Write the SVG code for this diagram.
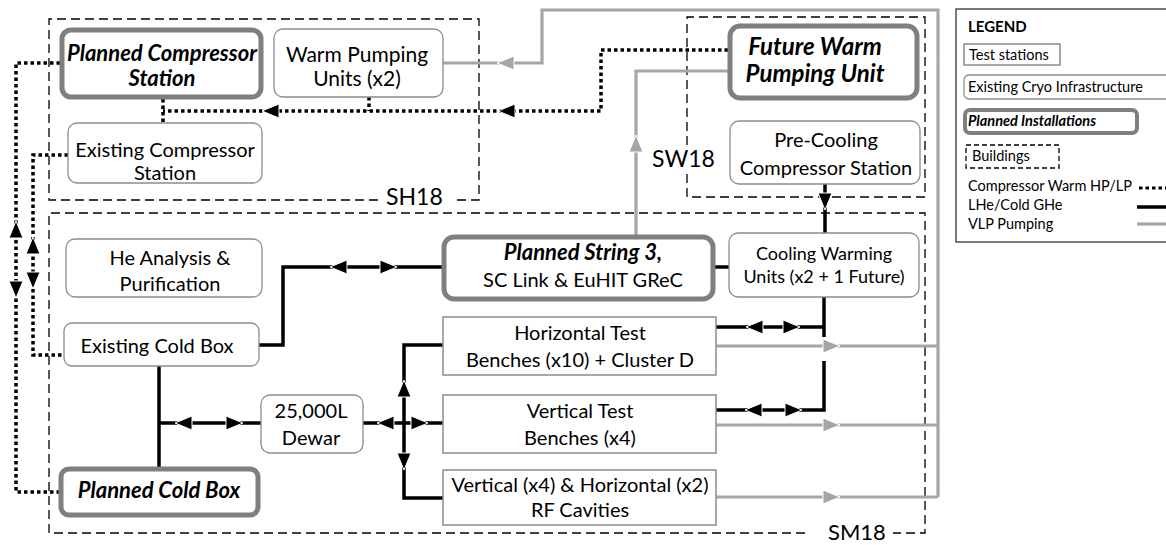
<svg xmlns="http://www.w3.org/2000/svg" xmlns:xlink="http://www.w3.org/1999/xlink" width="1166" height="545" viewBox="0 0 1166 545">
  <style>
    .ex { fill: #fff; stroke: #8c8c8c; stroke-width: 1.3; }
    .pl { fill: #fff; stroke: #7f7f7f; stroke-width: 5; }
    .ts { fill: #fff; stroke: #8c8c8c; stroke-width: 1.5; }
    .bld { fill: none; stroke: #000; stroke-width: 1.3; stroke-dasharray: 9 5; }
    .t { font-family: Lato, "Liberation Sans", sans-serif; font-size: 20px; fill: #000; text-anchor: middle; }
    .bi { font-weight: bold; font-style: italic; font-size: 22px; }
    .big { font-size: 24px; }
    .sm { font-size: 18px; }
    .lbl { font-family: Lato, "Liberation Sans", sans-serif; font-size: 23px; fill: #000; }
    .lg { font-family: Lato, "Liberation Sans", sans-serif; font-size: 14.5px; fill: #000; }
    .cold { fill: none; stroke: #000; stroke-width: 3.5; }
    .vlp { fill: none; stroke: #a6a6a6; stroke-width: 3.2; }
    .warm { fill: none; stroke: #000; stroke-width: 3.5; stroke-dasharray: 3.5 3; }
    .ak { fill: #000; stroke: #fff; stroke-width: 1; }
    .ag { fill: #a6a6a6; stroke: #fff; stroke-width: 1; }
  </style>
  <defs>
    <!-- arrowhead with its tip at the origin, pointing along +x -->
    <path id="ah" d="M0,0 L-17,-7 L-17,7 Z"/>
  </defs>

  <!-- buildings -->
  <g id="buildings">
    <path class="bld" d="M378,200 H49 V19 H479 V200 H456"/>
    <text class="lbl" x="386" y="205">SH18</text>
    <path class="bld" d="M687,145 V17 H925 V197 H687 V173"/>
    <text class="lbl" x="652" y="167">SW18</text>
    <path class="bld" d="M805,533 H49 V213 H925 V533 H893"/>
    <text class="lbl" x="828" y="540" style="font-size:22px">SM18</text>
  </g>

  <!-- connectors -->
  <g id="connectors">
    <!-- VLP pumping -->
    <path class="vlp" d="M443,63 H542 V10 H938 V497"/>
    <path class="vlp" d="M728,71 H636 V235"/>
    <path class="vlp" d="M716,346 H938"/>
    <path class="vlp" d="M716,425 H938"/>
    <path class="vlp" d="M716,497 H938"/>
    <use xlink:href="#ah" class="ag" transform="translate(497,63) rotate(180)"/>
    <use xlink:href="#ah" class="ag" transform="translate(636,135) rotate(-90)"/>
    <use xlink:href="#ah" class="ag" transform="translate(840,346)"/>
    <use xlink:href="#ah" class="ag" transform="translate(840,425)"/>
    <use xlink:href="#ah" class="ag" transform="translate(840,497)"/>

    <!-- compressor warm HP/LP -->
    <path class="warm" d="M728,50 H601 V111 H163"/>
    <path class="warm" d="M163,99 V123"/>
    <path class="warm" d="M369,97 V111"/>
    <path class="warm" d="M60,63 H16 V492 H60"/>
    <path class="warm" d="M68,155 H33 V355 H64"/>
    <use xlink:href="#ah" class="ak" transform="translate(498,111) rotate(180)"/>
    <use xlink:href="#ah" class="ak" transform="translate(262,111) rotate(180)"/>
    <use xlink:href="#ah" class="ak" transform="translate(16,221) rotate(-90)"/>
    <use xlink:href="#ah" class="ak" transform="translate(16,298) rotate(90)"/>
    <use xlink:href="#ah" class="ak" transform="translate(33,237) rotate(-90)"/>
    <use xlink:href="#ah" class="ak" transform="translate(33,289) rotate(90)"/>

    <!-- LHe / cold GHe -->
    <path class="cold" d="M259,345 H283 V267 H442"/>
    <path class="cold" d="M714,267 H729"/>
    <path class="cold" d="M159,366 V467"/>
    <path class="cold" d="M159,423 H261"/>
    <path class="cold" d="M363,423 H443"/>
    <path class="cold" d="M443,345 H404 V498 H443"/>
    <path class="cold" d="M825,184 V233"/>
    <path class="cold" d="M824,297 V337"/>
    <path class="cold" d="M716,327 H824"/>
    <path class="cold" d="M716,410 H824 V361"/>
    <use xlink:href="#ah" class="ak" transform="translate(330,267) rotate(180)"/>
    <use xlink:href="#ah" class="ak" transform="translate(397,267)"/>
    <use xlink:href="#ah" class="ak" transform="translate(175,423) rotate(180)"/>
    <use xlink:href="#ah" class="ak" transform="translate(243,423)"/>
    <use xlink:href="#ah" class="ak" transform="translate(377,423) rotate(180)"/>
    <use xlink:href="#ah" class="ak" transform="translate(428,423)"/>
    <use xlink:href="#ah" class="ak" transform="translate(404,380) rotate(-90)"/>
    <use xlink:href="#ah" class="ak" transform="translate(404,470) rotate(90)"/>
    <use xlink:href="#ah" class="ak" transform="translate(825,210) rotate(90)"/>
    <use xlink:href="#ah" class="ak" transform="translate(746,327) rotate(180)"/>
    <use xlink:href="#ah" class="ak" transform="translate(800,327)"/>
    <use xlink:href="#ah" class="ak" transform="translate(745,410) rotate(180)"/>
    <use xlink:href="#ah" class="ak" transform="translate(802,410)"/>
  </g>

  <!-- SH18 -->
  <g id="planned-compressor-station">
    <rect class="pl" x="62" y="30" width="199" height="67" rx="9"/>
    <text class="t bi" x="162" y="61">Planned Compressor</text>
    <text class="t bi" x="162" y="86">Station</text>
  </g>
  <g id="warm-pumping-units">
    <rect class="ex" x="274" y="29" width="169" height="68" rx="9"/>
    <text class="t" x="357" y="62" style="font-size:21px">Warm Pumping</text>
    <text class="t" x="357" y="86" style="font-size:21px">Units (x2)</text>
  </g>
  <g id="existing-compressor-station">
    <rect class="ex" x="68" y="123" width="194" height="60" rx="9"/>
    <text class="t" x="165" y="157">Existing Compressor</text>
    <text class="t" x="165" y="180">Station</text>
  </g>

  <!-- SW18 -->
  <g id="future-warm-pumping-unit">
    <rect class="pl" x="730" y="26" width="187" height="72" rx="10"/>
    <text class="t bi big" x="815" y="55">Future Warm</text>
    <text class="t bi big" x="815" y="82">Pumping Unit</text>
  </g>
  <g id="pre-cooling-compressor-station">
    <rect class="ex" x="730" y="121" width="190" height="63" rx="9"/>
    <text class="t" x="826" y="147">Pre-Cooling</text>
    <text class="t" x="826" y="175">Compressor Station</text>
  </g>

  <!-- SM18 -->
  <g id="he-analysis-purification">
    <rect class="ex" x="66" y="239" width="196" height="58" rx="9"/>
    <text class="t" x="170" y="265">He Analysis &amp;</text>
    <text class="t" x="170" y="291">Purification</text>
  </g>
  <g id="existing-cold-box">
    <rect class="ex" x="64" y="323" width="195" height="43" rx="8"/>
    <text class="t" x="157" y="353">Existing Cold Box</text>
  </g>
  <g id="dewar">
    <rect class="ex" x="261" y="395" width="102" height="58" rx="9"/>
    <text class="t" x="311" y="418">25,000L</text>
    <text class="t" x="311" y="445">Dewar</text>
  </g>
  <g id="planned-cold-box">
    <rect class="pl" x="61" y="469" width="197" height="46" rx="8"/>
    <text class="t bi" x="159" y="498">Planned Cold Box</text>
  </g>
  <g id="planned-string-3">
    <rect class="pl" x="444" y="237" width="269" height="62" rx="10"/>
    <text class="t bi" x="583" y="260">Planned String 3,</text>
    <text class="t" x="583" y="287">SC Link &amp; EuHIT GReC</text>
  </g>
  <g id="cooling-warming-units">
    <rect class="ex" x="729" y="233" width="190" height="64" rx="9"/>
    <text class="t sm" x="824" y="260">Cooling Warming</text>
    <text class="t sm" x="824" y="283">Units (x2 + 1 Future)</text>
  </g>
  <g id="horizontal-test-benches">
    <rect class="ts" x="443" y="317" width="273" height="58"/>
    <text class="t" x="580" y="340">Horizontal Test</text>
    <text class="t" x="580" y="367">Benches (x10) + Cluster D</text>
  </g>
  <g id="vertical-test-benches">
    <rect class="ts" x="443" y="395" width="273" height="58"/>
    <text class="t" x="580" y="418">Vertical Test</text>
    <text class="t" x="580" y="445">Benches (x4)</text>
  </g>
  <g id="rf-cavities">
    <rect class="ts" x="443" y="470" width="273" height="55"/>
    <text class="t" x="580" y="492">Vertical (x4) &amp; Horizontal (x2)</text>
    <text class="t" x="580" y="517">RF Cavities</text>
  </g>

  <!-- legend -->
  <g id="legend">
    <rect x="956" y="9" width="230" height="233" fill="#fff" stroke="#333" stroke-width="1.3"/>
    <text class="lg" x="968" y="32" font-weight="bold" style="font-size:15px">LEGEND</text>
    <rect class="ts" x="964" y="44" width="96" height="21"/>
    <text class="lg" x="969" y="60">Test stations</text>
    <rect class="ex" x="964" y="75" width="220" height="24" rx="5"/>
    <text class="lg" x="968" y="92">Existing Cryo Infrastructure</text>
    <rect class="pl" x="965" y="110" width="172" height="23" rx="5" style="stroke-width:4"/>
    <text class="lg" x="968" y="126" font-weight="bold" font-style="italic">Planned Installations</text>
    <rect class="bld" x="966" y="145" width="93" height="23" style="stroke-dasharray:5 3"/>
    <text class="lg" x="972" y="161">Buildings</text>
    <text class="lg" x="968" y="191">Compressor Warm HP/LP</text>
    <path class="warm" d="M1139,188 H1166" style="stroke-width:3"/>
    <text class="lg" x="968" y="210">LHe/Cold GHe</text>
    <path class="cold" d="M1137,207 H1166"/>
    <text class="lg" x="968" y="229">VLP Pumping</text>
    <path class="vlp" d="M1137,224 H1166"/>
  </g>
</svg>
